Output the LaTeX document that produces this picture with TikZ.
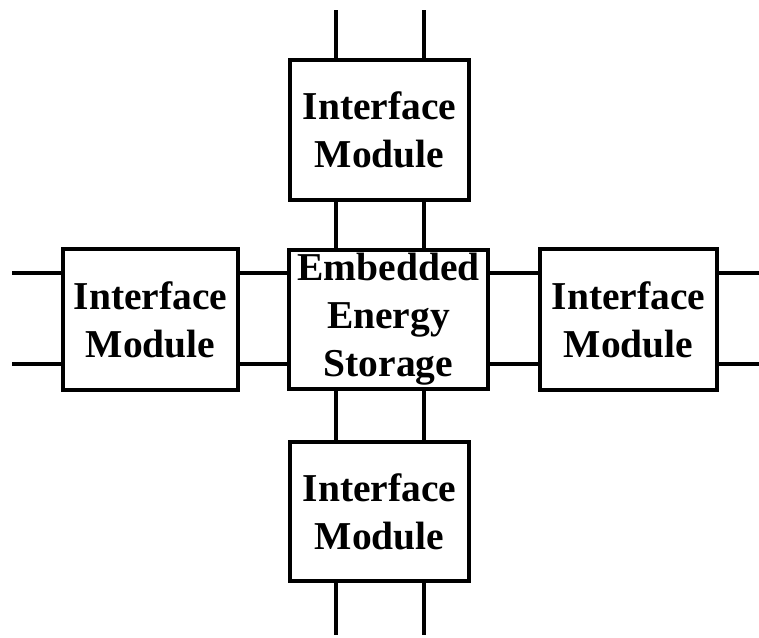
\documentclass[tikz,border=0pt]{standalone}
\usepackage{fontspec}
\setmainfont{Liberation Serif}
\begin{document}
\begin{tikzpicture}[x=1pt,y=-1pt,
  module/.style={draw, line width=4.5pt, fill=white, align=center,
    font=\fontsize{39.5}{48}\selectfont\bfseries, inner sep=0pt},
  link/.style={line width=4.5pt}]
\useasboundingbox (0,0) rectangle (759,637);

% blocks
\node[module, minimum width=199pt, minimum height=139pt] (ess) at (388.5,319.5) {Embedded\\Energy\\Storage};
\node[module, minimum width=179pt, minimum height=140pt] (top) at (379.5,130) {Interface\\Module};
\node[module, minimum width=179pt, minimum height=139pt] (bot) at (379.5,511.5) {Interface\\Module};
\node[module, minimum width=175pt, minimum height=141pt] (lft) at (150.5,319.5) {Interface\\Module};
\node[module, minimum width=177pt, minimum height=141pt] (rgt) at (628.5,319.5) {Interface\\Module};

% terminal columns and rows
\coordinate (ca) at (336,0);
\coordinate (cb) at (424,0);
\coordinate (ra) at (0,273);
\coordinate (rb) at (0,364);

% free terminal ends
\coordinate (ta) at (336,10);
\coordinate (tb) at (424,10);
\coordinate (ba) at (336,635);
\coordinate (bb) at (424,635);
\coordinate (la) at (12,273);
\coordinate (lb) at (12,364);
\coordinate (xa) at (759,273);
\coordinate (xb) at (759,364);

% vertical connections
\draw[link] (ta) -- (top.north -| ca);
\draw[link] (tb) -- (top.north -| cb);
\draw[link] (top.south -| ca) -- (ess.north -| ca);
\draw[link] (top.south -| cb) -- (ess.north -| cb);
\draw[link] (ess.south -| ca) -- (bot.north -| ca);
\draw[link] (ess.south -| cb) -- (bot.north -| cb);
\draw[link] (bot.south -| ca) -- (ba);
\draw[link] (bot.south -| cb) -- (bb);
% horizontal connections
\draw[link] (la) -- (lft.west |- ra);
\draw[link] (lb) -- (lft.west |- rb);
\draw[link] (lft.east |- ra) -- (ess.west |- ra);
\draw[link] (lft.east |- rb) -- (ess.west |- rb);
\draw[link] (ess.east |- ra) -- (rgt.west |- ra);
\draw[link] (ess.east |- rb) -- (rgt.west |- rb);
\draw[link] (rgt.east |- ra) -- (xa);
\draw[link] (rgt.east |- rb) -- (xb);
\end{tikzpicture}
\end{document}
